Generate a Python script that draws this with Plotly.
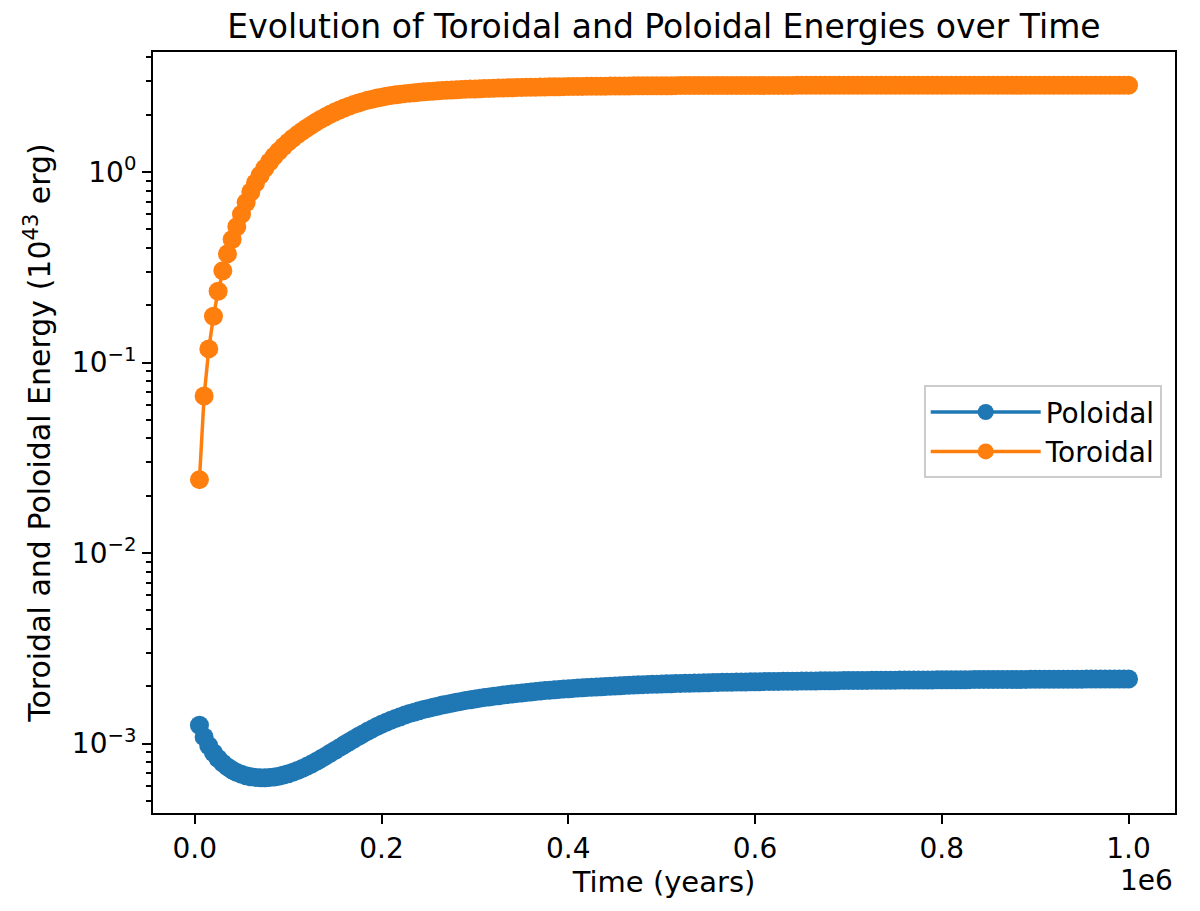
import plotly.graph_objects as go

# Simulation output: one sample every 5000 years
years = list(range(5000, 1000001, 5000))

# Poloidal energy in units of 1e-3 (x 10^43 erg)
poloidal_e3 = [
    1.250, 1.085, 0.975, 0.895, 0.835, 0.790, 0.755, 0.728, 0.706, 0.690, 0.678, 0.670, 0.665, 0.662, 0.662, 0.664, 0.668, 0.675, 0.684, 0.695,
    0.708, 0.723, 0.740, 0.760, 0.782, 0.806, 0.832, 0.860, 0.890, 0.921, 0.953, 0.986, 1.020, 1.055, 1.090, 1.125, 1.160, 1.195, 1.230, 1.263,
    1.295, 1.326, 1.356, 1.385, 1.412, 1.438, 1.463, 1.487, 1.509, 1.530, 1.552, 1.573, 1.593, 1.612, 1.630, 1.648, 1.665, 1.682, 1.698, 1.714,
    1.729, 1.744, 1.758, 1.772, 1.785, 1.798, 1.811, 1.823, 1.835, 1.846, 1.857, 1.868, 1.878, 1.888, 1.898, 1.907, 1.916, 1.925, 1.933, 1.941,
    1.949, 1.957, 1.964, 1.971, 1.978, 1.985, 1.991, 1.997, 2.003, 2.009, 2.015, 2.020, 2.025, 2.030, 2.035, 2.040, 2.044, 2.048, 2.052, 2.056,
    2.060, 2.064, 2.067, 2.071, 2.074, 2.077, 2.080, 2.083, 2.086, 2.089, 2.092, 2.094, 2.097, 2.099, 2.102, 2.104, 2.106, 2.108, 2.110, 2.112,
    2.114, 2.116, 2.118, 2.120, 2.122, 2.123, 2.125, 2.127, 2.128, 2.130, 2.131, 2.133, 2.134, 2.136, 2.137, 2.138, 2.140, 2.141, 2.142, 2.143,
    2.144, 2.146, 2.147, 2.148, 2.149, 2.150, 2.151, 2.152, 2.153, 2.154, 2.155, 2.156, 2.157, 2.158, 2.158, 2.159, 2.160, 2.161, 2.162, 2.163,
    2.163, 2.164, 2.165, 2.166, 2.166, 2.167, 2.168, 2.168, 2.169, 2.170, 2.170, 2.171, 2.172, 2.172, 2.173, 2.173, 2.174, 2.174, 2.175, 2.176,
    2.176, 2.177, 2.177, 2.178, 2.178, 2.179, 2.179, 2.180, 2.180, 2.180, 2.181, 2.181, 2.182, 2.182, 2.183, 2.183, 2.183, 2.184, 2.184, 2.185,
]
poloidal = [v * 1e-3 for v in poloidal_e3]

# Toroidal energy (x 10^43 erg)
toroidal = [
    0.0243, 0.0667, 0.118, 0.175, 0.237, 0.303, 0.372, 0.443, 0.516, 0.600, 0.692, 0.785, 0.875, 0.962, 1.047, 1.130, 1.210, 1.287, 1.362, 1.435,
    1.505, 1.572, 1.637, 1.702, 1.766, 1.829, 1.891, 1.951, 2.009, 2.064, 2.116, 2.166, 2.214, 2.259, 2.301, 2.341, 2.378, 2.412, 2.443, 2.471,
    2.497, 2.520, 2.542, 2.561, 2.579, 2.595, 2.609, 2.623, 2.635, 2.647, 2.657, 2.667, 2.677, 2.686, 2.694, 2.702, 2.710, 2.717, 2.724, 2.730,
    2.736, 2.742, 2.748, 2.753, 2.758, 2.763, 2.767, 2.772, 2.776, 2.780, 2.783, 2.787, 2.790, 2.793, 2.796, 2.799, 2.802, 2.804, 2.807, 2.809,
    2.811, 2.813, 2.815, 2.817, 2.819, 2.821, 2.823, 2.824, 2.826, 2.827, 2.829, 2.830, 2.831, 2.833, 2.834, 2.835, 2.836, 2.837, 2.838, 2.839,
    2.840, 2.840, 2.841, 2.842, 2.842, 2.843, 2.843, 2.844, 2.844, 2.845, 2.845, 2.845, 2.846, 2.846, 2.846, 2.847, 2.847, 2.847, 2.848, 2.848,
    2.848, 2.848, 2.849, 2.849, 2.849, 2.849, 2.849, 2.849, 2.850, 2.850, 2.850, 2.850, 2.850, 2.850, 2.850, 2.850, 2.850, 2.850, 2.850, 2.850,
    2.850, 2.850, 2.850, 2.850, 2.850, 2.850, 2.850, 2.850, 2.850, 2.850, 2.851, 2.851, 2.851, 2.851, 2.851, 2.851, 2.851, 2.851, 2.851, 2.851,
    2.851, 2.851, 2.851, 2.851, 2.851, 2.851, 2.851, 2.851, 2.851, 2.851, 2.851, 2.851, 2.851, 2.851, 2.851, 2.851, 2.851, 2.851, 2.851, 2.851,
    2.851, 2.851, 2.851, 2.851, 2.851, 2.851, 2.851, 2.851, 2.851, 2.851, 2.852, 2.852, 2.852, 2.852, 2.852, 2.852, 2.852, 2.852, 2.852, 2.852,
]

x_tick_vals = [0, 200000, 400000, 600000, 800000, 1000000]
x_tick_text = ["0.0", "0.2", "0.4", "0.6", "0.8", "1.0"]
y_tick_vals = [1e-3, 1e-2, 1e-1, 1e0]
y_tick_text = ["10<sup>\u22123</sup>", "10<sup>\u22122</sup>", "10<sup>\u22121</sup>", "10<sup>0</sup>"]

# minor log ticks 2..9 of each decade
minor_vals = [k * 10.0 ** e for e in range(-4, 1) for k in range(2, 10)]

font = "DejaVu Sans"

fig = go.Figure()
fig.add_trace(go.Scatter(
    x=years, y=poloidal, mode="lines+markers", name="Poloidal",
    line=dict(color="#1f77b4", width=3.5),
    marker=dict(size=19, color="#1f77b4"),
))
fig.add_trace(go.Scatter(
    x=years, y=toroidal, mode="lines+markers", name="Toroidal",
    line=dict(color="#ff7f0e", width=3.5),
    marker=dict(size=19, color="#ff7f0e"),
))

axis_common = dict(
    showline=True, linecolor="black", linewidth=2, mirror=True,
    ticks="outside", ticklen=9, tickwidth=2, tickcolor="black",
    showgrid=False, zeroline=False,
    tickfont=dict(family=font, size=28, color="black"),
)

# page has an 8px body margin, so the figure is sized to fit inside it
fig.update_layout(
    width=1184, height=895,
    margin=dict(l=145, r=17, t=44, b=90, autoexpand=False),
    paper_bgcolor="white", plot_bgcolor="white",
    font=dict(family=font, color="black"),
    title=dict(
        text="Evolution of Toroidal and Poloidal Energies over Time",
        x=0.5, xref="paper", xanchor="center",
        y=0.979, yref="container", yanchor="middle",
        font=dict(size=33, family=font, color="black"),
    ),
    xaxis=dict(
        range=[-44750, 1049750],
        tickmode="array", tickvals=x_tick_vals, ticktext=x_tick_text,
        title=dict(text="Time (years)", font=dict(size=29, family=font), standoff=4),
        **axis_common,
    ),
    yaxis=dict(
        type="log", range=[-3.364, 0.630],
        tickmode="array", tickvals=y_tick_vals, ticktext=y_tick_text,
        minor=dict(tickmode="array", tickvals=minor_vals, ticks="outside",
                   ticklen=5, tickwidth=1.5, tickcolor="black", showgrid=False),
        title=dict(text="Toroidal and Poloidal Energy (10<sup>43</sup> erg)",
                   font=dict(size=30, family=font), standoff=12),
        **axis_common,
    ),
    legend=dict(
        x=0.987, xanchor="right", y=0.562, yanchor="top",
        bgcolor="white", bordercolor="#cccccc", borderwidth=2,
        itemwidth=110,
        font=dict(size=28, family=font, color="black"),
    ),
    annotations=[dict(
        text="1e6", x=1, xref="paper", xanchor="right",
        y=-0.0884, yref="paper", yanchor="middle", showarrow=False,
        font=dict(size=28, family=font, color="black"),
    )],
)

fig.write_html("out.html")
